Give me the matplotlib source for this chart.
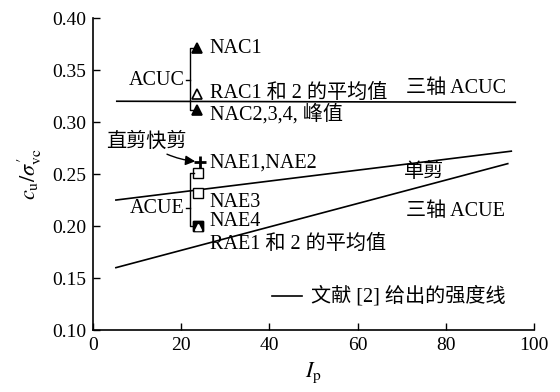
import matplotlib
matplotlib.use("Agg")
import matplotlib.pyplot as plt

plt.rcParams["font.family"] = ["Liberation Serif", "Noto Sans CJK SC"]
plt.rcParams["mathtext.fontset"] = "stix"

# data
acuc_ip = [23.5, 23.5, 23.5]
acuc_val = [0.371, 0.327, 0.312]      # NAC1, RAC1&2 mean, NAC2-4 peak
acuc_mark = ["^", "^", "^"]
acuc_fill = ["black", "white", "black"]

nae12_ip, nae12_val = 24.3, 0.262     # direct shear (+)
acue_ip = [23.8, 23.8, 23.8]
acue_val = [0.251, 0.232, 0.200]      # NAE1/2, NAE3, NAE4

triax_acuc_ip = [5.4, 95.7]
triax_acuc_val = [0.320, 0.319]
simple_shear_ip = [5.2, 94.8]
simple_shear_val = [0.225, 0.272]
triax_acue_ip = [5.2, 94.0]
triax_acue_val = [0.160, 0.260]

fig = plt.figure(figsize=(5.6, 3.92), dpi=100)
ax = fig.add_axes([0.166, 0.158, 0.788, 0.796])

lw = 1.2
ax.plot(triax_acuc_ip, triax_acuc_val, color="black", lw=lw)
ax.plot(simple_shear_ip, simple_shear_val, color="black", lw=lw)
ax.plot(triax_acue_ip, triax_acue_val, color="black", lw=lw)

for x, y, m, fc in zip(acuc_ip, acuc_val, acuc_mark, acuc_fill):
    ax.plot(x, y, marker=m, ms=7, mfc=fc, mec="black", mew=1.2, ls="none")

ax.plot(nae12_ip, nae12_val, marker="+", ms=8, mew=2, color="black", ls="none")
ax.plot(acue_ip, acue_val, marker="s", ms=7, mfc="white", mec="black", mew=1.0, ls="none")
ax.plot(acue_ip[2], acue_val[2], marker="s", ms=7, mfc="black", mec="black", ls="none")
ax.plot(acue_ip[2], acue_val[2] - 0.001, marker="^", ms=4.5, mfc="white", mec="white", ls="none")

# brackets
bx = 22.0
ax.plot([acuc_ip[0] - 0.6, bx, bx, acuc_ip[2] - 0.6],
        [acuc_val[0], acuc_val[0], acuc_val[2], acuc_val[2]], color="black", lw=1)
ax.plot([bx - 1.0, bx], [0.340, 0.340], color="black", lw=1)
ax.plot([acue_ip[0] - 0.8, bx, bx, acue_ip[2] - 0.8],
        [acue_val[0], acue_val[0], acue_val[2], acue_val[2]], color="black", lw=1)
ax.plot([bx - 1.0, bx], [0.217, 0.217], color="black", lw=1)

fs = 14.5
ax.text(26.5, 0.371, "NAC1", fontsize=fs, va="center")
ax.text(26.5, 0.328, "RAC1 和 2 的平均值", fontsize=fs, va="center")
ax.text(26.5, 0.308, "NAC2,3,4, 峰值", fontsize=fs, va="center")
ax.text(20.8, 0.340, "ACUC", fontsize=fs, va="center", ha="right")
ax.text(71, 0.332, "三轴 ACUC", fontsize=fs, va="center")
ax.text(26.5, 0.261, "NAE1,NAE2", fontsize=fs, va="center")
ax.text(26.5, 0.223, "NAE3", fontsize=fs, va="center")
ax.text(26.5, 0.204, "NAE4", fontsize=fs, va="center")
ax.text(26.5, 0.182, "RAE1 和 2 的平均值", fontsize=fs, va="center")
ax.text(20.8, 0.217, "ACUE", fontsize=fs, va="center", ha="right")
ax.text(70.5, 0.252, "单剪", fontsize=fs, va="center")
ax.text(71, 0.214, "三轴 ACUE", fontsize=fs, va="center")
ax.annotate("直剪快剪", xy=(23.8, 0.262), xytext=(12.0, 0.281), fontsize=fs,
            va="center", ha="center",
            arrowprops=dict(arrowstyle="-|>", color="black", lw=1,
                            shrinkA=0, shrinkB=2, connectionstyle="arc3,rad=0.15"))

# legend line
ax.plot([40.6, 47.4], [0.133, 0.133], color="black", lw=lw)
ax.text(49.5, 0.133, "文献 [2] 给出的强度线", fontsize=fs, va="center")

ax.set_xlim(0, 100)
ax.set_ylim(0.10, 0.40)
ax.set_xticks([0, 20, 40, 60, 80, 100])
ax.set_yticks([0.10, 0.15, 0.20, 0.25, 0.30, 0.35, 0.40])
ax.set_yticklabels([f"{v:.2f}" for v in [0.10, 0.15, 0.20, 0.25, 0.30, 0.35, 0.40]])
ax.tick_params(direction="in", labelsize=14, length=5, width=1, pad=5)
ax.spines["top"].set_visible(False)
ax.spines["right"].set_visible(False)
for s in ("left", "bottom"):
    ax.spines[s].set_linewidth(1.2)

ax.set_xlabel(r"$I_\mathrm{p}$", fontsize=16, labelpad=5)
ax.set_ylabel(r"$c_{\mathrm{u}}/\sigma^{\prime}_{\mathrm{vc}}$", fontsize=16, labelpad=6)

fig.savefig("out.png", dpi=100)
